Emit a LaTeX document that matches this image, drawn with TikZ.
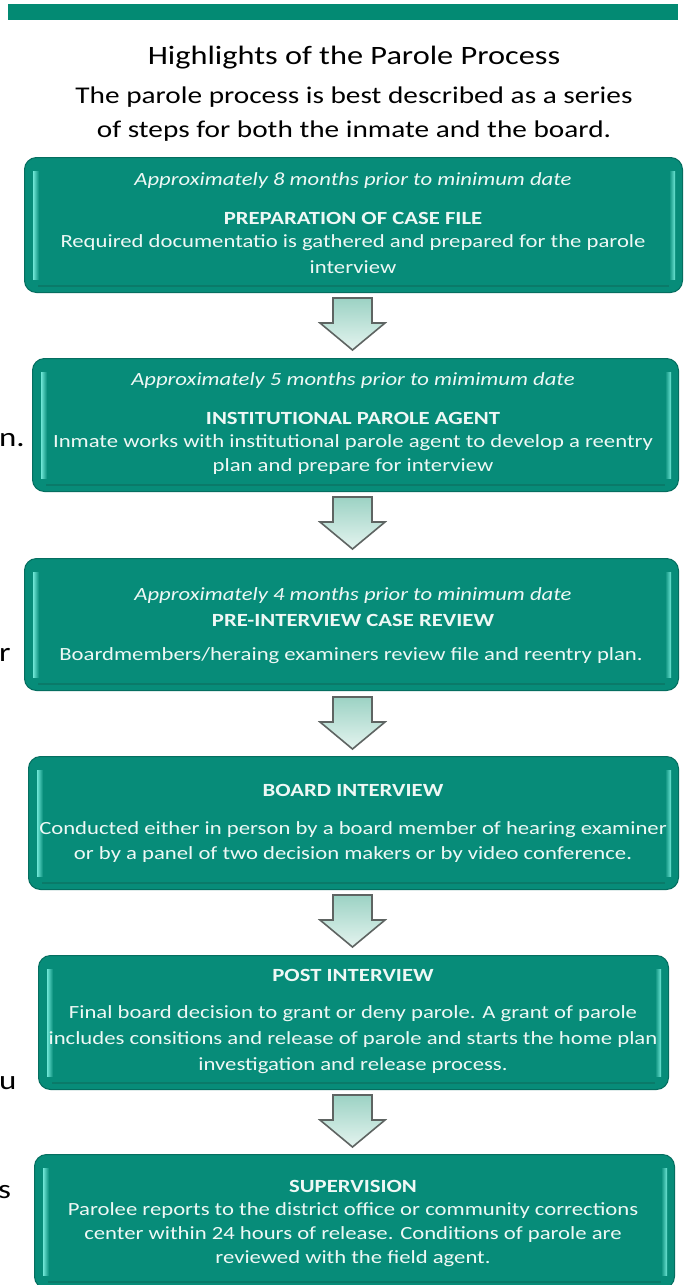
\documentclass[tikz,border=0pt]{standalone}
\usepackage{fontspec}
\setmainfont[FakeStretch=1.22]{Carlito}
\definecolor{barteal}{HTML}{038A73}
\definecolor{boxteal}{HTML}{078C79}
\definecolor{boxedge}{HTML}{056E60}
\definecolor{boxhi}{HTML}{6FE6D6}
\definecolor{boxlow}{HTML}{0A7A69}
\definecolor{boxtext}{HTML}{EEF8F5}
\definecolor{arrtop}{HTML}{9CD2C4}
\definecolor{arrbot}{HTML}{E4F4EF}
\definecolor{arredge}{HTML}{5E6462}
\tikzset{
  boxbase/.style={draw=boxedge, line width=1pt, fill=boxteal, rounded corners=12pt, inner sep=0pt},
  hl/.style={draw=none, left color=boxhi, right color=boxteal},
  hr/.style={draw=none, left color=boxteal, right color=boxhi},
  bt/.style={font=\fontsize{18.6}{20}\selectfont, text=boxtext, inner sep=0pt},
  btit/.style={bt, font=\fontsize{18.6}{20}\selectfont\itshape},
  btbf/.style={bt, font=\fontsize{18.6}{20}\selectfont\bfseries},
  ttl/.style={font=\fontsize{26.5}{28}\selectfont, text=black, inner sep=0pt},
  sub/.style={font=\fontsize{24}{26}\selectfont, text=black, inner sep=0pt},
  side/.style={font=\fontsize{27}{28}\selectfont, text=black, inner sep=0pt, anchor=west},
  arrowshape/.style={draw=arredge, line width=1.6pt, line join=miter, top color=arrtop, bottom color=arrbot}
}
\newcommand{\bevelbox}[5]{%
  \node[boxbase, anchor=north west, minimum width=#4pt-#2pt, minimum height=#5pt-#3pt] (#1) at (#2,#3) {};
  \fill[hl] ([xshift=9pt,yshift=-14pt]#1.north west) rectangle ([xshift=15pt,yshift=14pt]#1.south west);
  \fill[hr] ([xshift=-14pt,yshift=-14pt]#1.north east) rectangle ([xshift=-8pt,yshift=14pt]#1.south east);
  \draw[boxlow, line width=1.2pt] ([xshift=14pt,yshift=7pt]#1.south west) -- ([xshift=-14pt,yshift=7pt]#1.south east);
}
\begin{document}
\begin{tikzpicture}[x=1pt,y=-1pt]
\useasboundingbox (0,0) rectangle (686,1285);
\fill[white] (0,0) rectangle (686,1285);
% top bar
\node[fill=barteal, anchor=north west, minimum width=670pt, minimum height=16pt, inner sep=0pt] (bar) at (8,4) {};
% title
\node[ttl] (t1) at (354,58) {Highlights of the Parole Process};
\node[sub] (t2) at (354,97) {The parole process is best described as a series};
\node[sub] (t3) at (354,131) {of steps for both the inmate and the board.};
% side fragments
\node[side] (s1) at (-1,440) {n.};
\node[side] (s2) at (-1,655) {r};
\node[side] (s3) at (-1,1083) {u};
\node[side] (s4) at (-2,1192) {s};
% boxes
\bevelbox{b1}{24}{157}{682}{292}
\bevelbox{b2}{32}{358}{678}{491}
\bevelbox{b3}{24}{558}{678}{690}
\bevelbox{b4}{28}{756}{678}{889}
\bevelbox{b5}{38}{955}{668}{1089}
\bevelbox{b6}{34}{1154}{674}{1288}
% box 1 text
\node[btit] (b1a) at (353,181) {Approximately 8 months prior to minimum date};
\node[btbf] (b1b) at (353,218) {PREPARATION OF CASE FILE};
\node[bt] (b1c) at (353,243) {Required documentatio is gathered and prepared for the parole};
\node[bt] (b1d) at (353,267) {interview};
% box 2 text
\node[btit] (b2a) at (353,381) {Approximately 5 months prior to mimimum date};
\node[btbf] (b2b) at (353,418) {INSTITUTIONAL PAROLE AGENT};
\node[bt] (b2c) at (353,443) {Inmate works with institutional parole agent to develop a reentry};
\node[bt] (b2d) at (353,467) {plan and prepare for interview};
% box 3 text
\node[btit] (b3a) at (353,596) {Approximately 4 months prior to minimum date};
\node[btbf] (b3b) at (353,620) {PRE-INTERVIEW CASE REVIEW};
\node[bt] (b3c) at (351,656) {Boardmembers/heraing examiners review file and reentry plan.};
% box 4 text
\node[btbf] (b4a) at (353,790) {BOARD INTERVIEW};
\node[bt] (b4b) at (353,830) {Conducted either in person by a board member of hearing examiner};
\node[bt] (b4c) at (353,855) {or by a panel of two decision makers or by video conference.};
% box 5 text
\node[btbf] (b5a) at (353,975) {POST INTERVIEW};
\node[bt] (b5b) at (353,1014) {Final board decision to grant or deny parole. A grant of parole};
\node[bt] (b5c) at (353,1040) {includes consitions and release of parole and starts the home plan};
\node[bt] (b5d) at (353,1066) {investigation and release process.};
% box 6 text
\node[btbf] (b6a) at (353,1186) {SUPERVISION};
\node[bt] (b6b) at (353,1211) {Parolee reports to the district office or community corrections};
\node[bt] (b6c) at (353,1235) {center within 24 hours of release. Conditions of parole are};
\node[bt] (b6d) at (353,1259) {reviewed with the field agent.};
% arrows between boxes
\foreach \a/\yy in {b1/298, b2/497, b3/697, b4/895, b5/1095}{
  \coordinate (\a-arr) at (352.5,\yy);
  \draw[arrowshape] ([xshift=-19.5pt]\a-arr) -- ([xshift=19.5pt]\a-arr)
     -- ([xshift=19.5pt,yshift=-25pt]\a-arr) -- ([xshift=32.5pt,yshift=-25pt]\a-arr)
     -- ([yshift=-52pt]\a-arr) -- ([xshift=-32.5pt,yshift=-25pt]\a-arr)
     -- ([xshift=-19.5pt,yshift=-25pt]\a-arr) -- cycle;
}
\end{tikzpicture}
\end{document}
